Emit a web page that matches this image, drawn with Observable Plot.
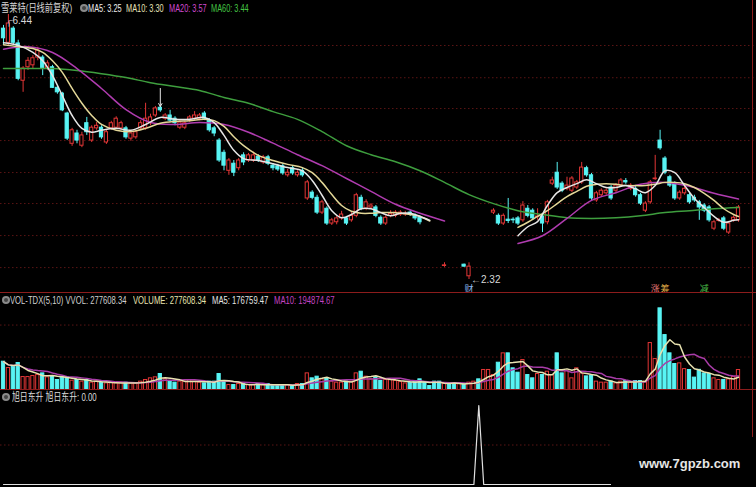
<!DOCTYPE html>
<html>
<head>
<meta charset="utf-8">
<script src="https://cdn.jsdelivr.net/npm/d3@7"></script>
<script src="https://cdn.jsdelivr.net/npm/@observablehq/plot@0.6"></script>
<style>
  html, body { margin: 0; padding: 0; background: #000; }
  #chart { position: relative; width: 756px; height: 487px; background: #000; overflow: hidden;
           font-family: "Liberation Sans", "Noto Sans CJK SC", sans-serif; }
  .t { position: absolute; white-space: nowrap; font-size: 11px; line-height: 12px; transform-origin: 0 50%; }
  .dot { position: absolute; width: 8px; height: 8px; border-radius: 50%; background: #8a8a8a; }
  .dot::after { content: ""; position: absolute; left: 2px; top: 2px; width: 4px; height: 4px; border-radius: 50%; background: #444; }
  .line { position: absolute; background: #8c1c1c; }
  #mark { position: absolute; left: 611px; top: 437px; width: 145px; height: 50px; background: #000; }
  #mark span { position: absolute; left: 28px; top: 19px; color: #e6e6e6; font: bold 13px "Liberation Sans", sans-serif; }
</style>
</head>
<body>
<div id="chart"></div>
<script>
// ---- daily bars (雪莱特, 前复权) ----
const open = [6.22,6.00,6.22,5.99,5.41,5.62,5.65,5.77,5.77,5.60,
5.62,5.30,5.21,4.90,4.43,4.59,4.40,4.75,4.48,4.67,
4.68,4.45,4.67,4.68,4.67,4.67,4.51,4.53,4.67,4.67,
4.75,4.87,4.99,4.82,4.87,4.82,4.68,4.68,4.79,4.82,
4.82,4.90,4.79,4.67,4.48,4.29,4.01,4.12,4.05,4.25,
4.17,4.17,4.23,4.14,4.22,4.09,4.08,4.08,3.94,4.05,
3.94,4.01,3.58,3.67,3.59,3.36,3.42,3.19,3.21,3.27,
3.27,3.24,3.31,3.59,3.42,3.44,3.44,3.28,3.19,3.31,
3.31,3.33,3.33,3.36,3.31,3.28,null,null,null,null,
2.53,null,null,null,2.55,2.37,null,null,null,null,
3.36,3.31,3.19,3.25,3.25,3.27,3.24,3.42,3.39,3.29,
3.30,3.21,3.81,3.98,3.81,3.73,3.70,3.75,3.83,4.05,
3.94,3.55,3.63,3.66,3.75,3.70,3.78,3.85,3.73,3.73,
3.63,3.39,3.52,3.88,4.48,4.20,3.91,3.81,3.58,3.66,
3.63,3.59,3.52,3.47,3.44,3.11,3.23,3.27,3.05,3.24,
3.24];
const high = [6.27,6.44,6.25,6.04,5.63,5.77,5.80,5.93,5.80,5.72,
5.65,5.32,5.23,4.92,4.67,4.64,4.61,4.84,4.71,4.76,
4.71,4.64,4.78,4.85,4.78,4.70,4.62,4.64,4.79,5.06,
4.89,5.01,5.01,4.90,4.95,4.85,4.79,4.78,4.87,4.93,
4.90,4.93,4.82,4.70,4.51,4.33,4.20,4.17,4.20,4.29,
4.28,4.30,4.26,4.25,4.25,4.12,4.11,4.11,4.03,4.08,
4.01,4.05,3.86,3.70,3.63,3.55,3.45,3.27,3.30,3.38,
3.30,3.36,3.66,3.63,3.56,3.50,3.47,3.31,3.31,3.39,
3.39,3.39,3.38,3.39,3.34,3.31,null,null,null,null,
2.58,null,null,null,2.56,2.58,null,null,null,null,
3.42,3.34,3.34,3.58,3.28,3.30,3.53,3.47,3.42,3.42,
3.34,3.55,3.91,4.14,3.84,3.91,3.92,3.86,4.14,4.08,
3.97,3.69,3.73,3.73,3.78,3.81,3.89,3.89,3.81,3.77,
3.66,3.53,3.86,4.25,4.64,4.23,3.94,3.84,3.70,3.77,
3.66,3.63,3.55,3.50,3.47,3.24,3.27,3.30,3.22,3.31,
3.47];
const low = [5.96,5.96,5.96,5.41,5.23,5.57,5.60,5.72,5.49,5.57,
5.29,5.20,4.93,4.48,4.39,4.43,4.37,4.56,4.45,4.64,
4.50,4.42,4.64,4.65,4.64,4.50,4.47,4.50,4.64,4.64,
4.71,4.84,4.92,4.79,4.76,4.71,4.65,4.65,4.76,4.79,
4.79,4.79,4.61,4.54,4.14,4.01,3.94,3.92,4.01,4.09,
4.14,4.14,4.14,4.11,4.09,4.01,4.00,3.94,3.91,3.94,
3.91,3.91,3.55,3.56,3.33,3.33,3.16,3.16,3.17,3.24,
3.16,3.21,3.28,3.39,3.39,3.41,3.28,3.16,3.16,3.28,
3.28,3.30,3.30,3.30,3.24,3.17,null,null,null,null,
2.51,null,null,null,2.51,2.32,null,null,null,null,
3.33,3.16,3.16,3.19,3.19,3.16,3.21,3.28,3.24,3.24,
3.05,3.17,3.78,3.72,3.67,3.70,3.67,3.72,3.80,3.91,
3.55,3.52,3.60,3.63,3.55,3.67,3.75,3.80,3.70,3.60,
3.47,3.36,3.49,3.86,4.33,3.95,3.75,3.55,3.55,3.63,
3.49,3.52,3.24,3.36,3.21,3.08,3.21,3.08,3.02,3.21,
3.21];
const close = [6.07,6.30,6.00,5.44,5.60,5.72,5.76,5.88,5.60,5.68,
5.30,5.23,4.95,4.51,4.64,4.48,4.56,4.61,4.68,4.71,
4.53,4.61,4.75,4.82,4.75,4.53,4.59,4.61,4.75,4.82,
4.84,4.98,4.95,4.87,4.79,4.75,4.76,4.75,4.84,4.87,
4.87,4.82,4.64,4.59,4.17,4.09,4.17,3.98,4.17,4.14,
4.25,4.25,4.17,4.22,4.12,4.05,4.03,3.97,3.98,3.97,
3.98,3.94,3.83,3.59,3.36,3.52,3.19,3.24,3.27,3.33,
3.19,3.31,3.63,3.42,3.52,3.47,3.31,3.19,3.28,3.34,
3.36,3.36,3.34,3.33,3.27,3.21,null,null,null,null,
2.54,null,null,null,2.52,2.52,null,null,null,null,
3.39,3.19,3.31,3.23,3.24,3.19,3.47,3.31,3.27,3.30,
3.19,3.52,3.86,3.75,3.70,3.78,3.89,3.83,4.06,3.94,
3.58,3.66,3.70,3.70,3.58,3.78,3.86,3.83,3.78,3.63,
3.50,3.50,3.83,3.89,4.36,3.98,3.78,3.58,3.67,3.73,
3.52,3.55,3.44,3.39,3.24,3.21,3.24,3.11,3.19,3.28,
3.44];
const volume = [393000,305000,319000,375000,180000,180000,194000,208000,231000,176000,
194000,139000,176000,176000,129000,139000,116000,139000,102000,116000,
102000,92000,102000,92000,102000,102000,92000,92000,116000,139000,
162000,176000,222000,148000,116000,102000,116000,116000,139000,116000,
102000,92000,116000,116000,222000,116000,69000,69000,83000,83000,
69000,69000,83000,69000,83000,69000,69000,69000,69000,55000,
83000,83000,231000,162000,185000,148000,162000,116000,102000,102000,
116000,116000,231000,254000,185000,148000,176000,125000,139000,139000,
125000,110000,92000,102000,116000,148000,102000,55000,116000,116000,
83000,83000,83000,92000,83000,102000,116000,148000,278000,278000,
208000,379000,509000,509000,301000,240000,416000,208000,162000,222000,
208000,254000,208000,509000,231000,265000,162000,301000,230000,189000,
194000,116000,102000,102000,116000,92000,116000,125000,102000,125000,
125000,116000,652000,430000,1134000,763000,509000,361000,370000,290000,
278000,172000,280000,230000,221000,161949.35,139000,140000,147000,180189.01,
277608.34];
// days with no drawn bar: rising (1) or falling (0) volume
const gapDays = [86,87,88,89,91,92,93,96,97,98,99];
const gapUp   = [0,0,0,0,0,0,1,1,0,1,1];

// ---- moving averages ----
const ma5Day = [0,3,6,8,10,12,14,16,18,20,23,26,29,32,35,38,41,43,45,47,49,52,55,58,61,63,65,67,69,71,73,75,77,79,81,83,85,87,
  96,105,107,109,111,113,115,117,119,121,123,125,127,129,131,133,135,137,139,141,143,145,147,149,150];
const ma5 = [6.00,5.96,5.85,5.72,5.49,5.18,4.87,4.67,4.61,4.64,4.67,4.64,4.73,4.84,4.81,4.81,4.84,4.76,4.56,4.33,4.20,4.17,4.12,4.06,4.01,3.86,3.63,3.39,3.28,3.33,3.42,3.42,3.36,3.31,3.35,3.35,3.30,3.24,
  null,3.00,3.14,3.22,3.47,3.67,3.75,3.81,3.87,3.81,3.75,3.75,3.78,3.73,3.67,3.78,4.01,3.98,3.78,3.58,3.44,3.30,3.21,3.24,3.25];
const ma10 = [5.97,5.94,5.91,5.85,5.72,5.54,5.29,5.06,4.87,4.73,4.64,4.62,4.67,4.75,4.78,4.79,4.81,4.79,4.70,4.54,4.40,4.25,4.17,4.11,4.06,3.98,3.83,3.64,3.47,3.38,3.35,3.35,3.36,3.36,3.35,3.33,3.30,3.23,
  null,3.13,3.21,3.30,3.39,3.50,3.61,3.69,3.77,3.80,3.81,3.80,3.78,3.78,3.78,3.80,3.83,3.83,3.81,3.75,3.66,3.55,3.42,3.33,3.30];
const ma20Day = [0,5,10,15,20,25,30,35,40,45,50,55,60,65,70,75,80,85,90,96,105,110,115,120,125,130,135,140,145,150];
const ma20 = [5.90,5.94,5.85,5.60,5.29,4.96,4.76,4.73,4.76,4.73,4.61,4.44,4.26,4.09,3.89,3.69,3.49,3.35,3.23,null,
  2.88,3.00,3.27,3.55,3.67,3.80,3.83,3.77,3.66,3.57];
const ma60Day = [0,5,10,15,20,25,30,35,40,45,50,55,60,65,70,75,80,85,90,95,100,105,110,115,120,125,130,135,140,145,150];
const ma60 = [5.60,5.60,5.60,5.57,5.52,5.46,5.38,5.32,5.26,5.15,5.06,4.93,4.81,4.62,4.40,4.26,4.15,4.01,3.83,3.64,
  3.50,3.39,3.33,3.28,3.27,3.28,3.31,3.36,3.39,3.42,3.44];

// ---- grid levels ----
const gridPrice = [2.505, 3.003, 3.501, 3.983, 4.48, 4.978, 5.457, 5.958];
const gridVolume = [458000, 902000];
const gridSignal = [0.5];

// ---- markers ----
const arrowDay = [32];
const arrowFrom = [5.29];
const tagDay = [95, 133, 135, 143];
const tagText = ["财", "涨", "筹", "减"];
// 旭日东升 signal days
const signalDays = [97];

// ---- styles ----
const RED = "#e23636", CYAN = "#58f4f4";
const tagColor = {"财": "#8cb6ea", "涨": "#e77a78", "筹": "#e5b048", "减": "#4cc04c"};
const X = {domain: [0, open.length - 1], range: [3, 738], axis: null};

const gapMap = new Map(gapDays.map((d, k) => [d, gapUp[k] === 1]));
const rows = open.map((o, i) => ({
  day: i, open: o, high: high[i], low: low[i], close: close[i], vol: volume[i],
  up: o != null ? close[i] >= o : gapMap.get(i)
}));
const candles = rows.filter(d => d.open != null);
const series = (days, vals) => days.map((d, k) => ({day: d, v: vals[k]}));
const iMax = d3.maxIndex(high), iMin = d3.minIndex(low);

const chart = document.getElementById("chart");
function place(svg, top) {
  svg.style.position = "absolute"; svg.style.left = "0px"; svg.style.top = top + "px";
  chart.append(svg);
}

// price panel
place(Plot.plot({
  width: 756, height: 293, margin: 0,
  x: X, y: {domain: [2.32, 6.44], range: [279, 14], axis: null},
  color: {type: "identity"},
  style: {background: "transparent", overflow: "visible"},
  marks: [
    Plot.ruleY(gridPrice, {stroke: "#5a1414", strokeDasharray: "1.5,2.5"}),
    Plot.ruleX(candles, {x: "day", y1: "low", y2: "high", stroke: d => d.up ? RED : CYAN}),
    Plot.rect(candles, {x1: d => d.day - 0.33, x2: d => d.day + 0.33, y1: "open", y2: "close",
      fill: d => d.up ? "#000" : CYAN, stroke: d => d.up ? RED : CYAN, strokeWidth: 1}),
    Plot.line(series(ma60Day, ma60), {x: "day", y: "v", stroke: "#3e9e3e", curve: "catmull-rom"}),
    Plot.line(series(ma20Day, ma20), {x: "day", y: "v", stroke: "#b03cb0", curve: "catmull-rom"}),
    Plot.line(series(ma5Day, ma10), {x: "day", y: "v", stroke: "#e4d898", curve: "catmull-rom"}),
    Plot.line(series(ma5Day, ma5), {x: "day", y: "v", stroke: "#e6e6e6", curve: "catmull-rom"}),
    Plot.arrow(arrowDay.map((d, k) => ({day: d, from: arrowFrom[k], to: high[d]})),
      {x: "day", y1: "from", y2: "to", stroke: "#e8e8e8", headLength: 5, strokeWidth: 1}),
    Plot.text([iMax], {x: d => d, y: d => high[d], text: d => "┌" + high[d].toFixed(2),
      textAnchor: "start", dx: -3, dy: 6, fill: "#d8d8d8", fontSize: 10, fontFamily: "Liberation Sans"}),
    Plot.text([iMin], {x: d => d, y: d => low[d], text: d => "←" + low[d].toFixed(2),
      textAnchor: "start", dx: 2, dy: 0, fill: "#d8d8d8", fontSize: 10, fontFamily: "Liberation Sans"}),
    Plot.text(tagDay.map((d, k) => ({day: d, t: tagText[k]})), {x: "day", frameAnchor: "bottom", text: "t",
      fill: d => tagColor[d.t], fontSize: 9, dy: -2, lineAnchor: "bottom", fontFamily: "Noto Sans CJK SC"})
  ]
}), 0);

// volume panel
place(Plot.plot({
  width: 756, height: 97, margin: 0,
  x: X, y: {domain: [0, 1200000], range: [96.5, 10.1], axis: null},
  color: {type: "identity"},
  style: {background: "transparent", overflow: "visible"},
  marks: [
    Plot.ruleY(gridVolume, {stroke: "#5a1414", strokeDasharray: "1.5,2.5"}),
    Plot.rect(rows, {x1: d => d.day - 0.33, x2: d => d.day + 0.33, y1: 0, y2: "vol",
      fill: d => d.up ? "#000" : CYAN, stroke: d => d.up ? RED : CYAN, strokeWidth: 1}),
    Plot.lineY(rows, Plot.windowY({k: 10, anchor: "end"}, {x: "day", y: "vol", stroke: "#a83ca8"})),
    Plot.lineY(rows, Plot.windowY({k: 5, anchor: "end"}, {x: "day", y: "vol", stroke: "#e8e2b0"}))
  ]
}), 293);

// 旭日东升 panel
const signal = rows.map(d => ({day: d.day, v: signalDays.includes(d.day) ? 1 : 0}));
place(Plot.plot({
  width: 756, height: 97, margin: 0,
  x: X, y: {domain: [0, 1], range: [94, 15], axis: null},
  style: {background: "transparent", overflow: "visible"},
  marks: [
    Plot.ruleY(gridSignal, {stroke: "#5a1414", strokeDasharray: "1.5,2.5"}),
    Plot.line(signal, {x: "day", y: "v", stroke: "#e0e0e0", strokeWidth: 1.2})
  ]
}), 390);

// panel borders
function line(l, t, w, h) {
  const el = document.createElement("div"); el.className = "line";
  Object.assign(el.style, {left: l + "px", top: t + "px", width: w + "px", height: h + "px"});
  chart.append(el);
}
line(0, 292, 756, 1); line(0, 389, 756, 1); line(752, 0, 1, 437);

// headers: each row is squeezed horizontally to span [x0, x1], pieces separated by a fixed gap
function dot(x, y) {
  const el = document.createElement("div"); el.className = "dot";
  el.style.left = x + "px"; el.style.top = y + "px"; chart.append(el);
}
function row(items, yc, x0, x1, gap) {
  const els = items.map(([text, color]) => {
    const el = document.createElement("div"); el.className = "t";
    el.textContent = text; el.style.top = (yc - 6) + "px"; el.style.color = color;
    chart.append(el);
    return el;
  });
  const widths = els.map(el => el.offsetWidth);
  const k = (x1 - x0 - gap * (els.length - 1)) / d3.sum(widths);
  let x = x0;
  els.forEach((el, i) => {
    el.style.left = x + "px";
    el.style.transform = `scaleX(${k})`;
    x += widths[i] * k + gap;
  });
}
const f2 = v => v.toFixed(2);
const n = volume.length;
const volMa = k => d3.mean(volume.slice(n - k));

row([["雪莱特(日线前复权)", "#d6d6d6"]], 7.5, 1, 72, 0);
dot(80, 3.5);
row([
  [`MA5: ${f2(ma5.at(-1))}`, "#ececec"],
  [`MA10: ${f2(ma10.at(-1))}`, "#e6e2b8"],
  [`MA20: ${f2(ma20.at(-1))}`, "#d24ad2"],
  [`MA60: ${f2(ma60.at(-1))}`, "#44c444"]
], 7.5, 88, 249, 5);

dot(2, 296);
row([
  [`VOL-TDX(5,10) VVOL: ${f2(volume[n - 1])}`, "#cfcfcf"],
  [`VOLUME: ${f2(volume[n - 1])}`, "#e8e4b0"],
  [`MA5: ${f2(volMa(5))}`, "#e4e4e4"],
  [`MA10: ${f2(volMa(10))}`, "#c444c4"]
], 300, 10, 335, 6);

dot(2, 392.5);
row([[`旭日东升  旭日东升: ${f2(signal.at(-1).v)}`, "#dcdcdc"]], 396.5, 12, 97, 0);

// site mark
const mark = document.createElement("div"); mark.id = "mark";
mark.innerHTML = "<span>www.7gpzb.com</span>";
chart.append(mark);
</script>
</body>
</html>
